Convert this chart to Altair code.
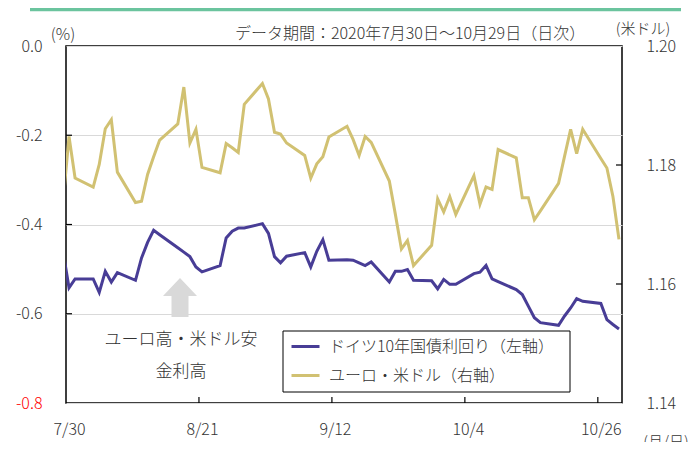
import altair as alt
import pandas as pd

# ---------------- data ----------------
dates = [
    "2020-07-29", "2020-07-30", "2020-07-31", "2020-08-03", "2020-08-04", "2020-08-05",
    "2020-08-06", "2020-08-07", "2020-08-10", "2020-08-11", "2020-08-12", "2020-08-13",
    "2020-08-14", "2020-08-17", "2020-08-18", "2020-08-19", "2020-08-20", "2020-08-21",
    "2020-08-24", "2020-08-25", "2020-08-26", "2020-08-27", "2020-08-28", "2020-08-31",
    "2020-09-01", "2020-09-02", "2020-09-03", "2020-09-04", "2020-09-07", "2020-09-08",
    "2020-09-09", "2020-09-10", "2020-09-11", "2020-09-14", "2020-09-15", "2020-09-16",
    "2020-09-17", "2020-09-18", "2020-09-21", "2020-09-22", "2020-09-23", "2020-09-24",
    "2020-09-25", "2020-09-28", "2020-09-29", "2020-09-30", "2020-10-01", "2020-10-02",
    "2020-10-05", "2020-10-06", "2020-10-07", "2020-10-08", "2020-10-09", "2020-10-12",
    "2020-10-13", "2020-10-14", "2020-10-15", "2020-10-16", "2020-10-19", "2020-10-20",
    "2020-10-21", "2020-10-22", "2020-10-23", "2020-10-26", "2020-10-27", "2020-10-28",
    "2020-10-29",
]
bund_yield = [
    -0.460, -0.542, -0.522, -0.522, -0.552, -0.505,
    -0.529, -0.508, -0.525, -0.475, -0.440, -0.413,
    -0.423, -0.452, -0.462, -0.472, -0.495, -0.506,
    -0.492, -0.430, -0.415, -0.408, -0.408, -0.398,
    -0.420, -0.472, -0.486, -0.471, -0.463, -0.495,
    -0.460, -0.434, -0.480, -0.479, -0.480, -0.486,
    -0.492, -0.484, -0.529, -0.505, -0.505, -0.501,
    -0.525, -0.526, -0.544, -0.523, -0.534, -0.534,
    -0.510, -0.507, -0.492, -0.522, -0.528, -0.546,
    -0.557, -0.583, -0.609, -0.620, -0.626, -0.605,
    -0.587, -0.566, -0.572, -0.577, -0.613, -0.624,
    -0.634,
]
eur_usd = [
    1.1736, 1.1848, 1.1778, 1.1763, 1.1801, 1.1861,
    1.1876, 1.1788, 1.1737, 1.1739, 1.1784, 1.1814,
    1.1842, 1.1869, 1.1931, 1.1837, 1.1860, 1.1796,
    1.1787, 1.1836, 1.1829, 1.1821, 1.1902, 1.1937,
    1.1911, 1.1855, 1.1852, 1.1837, 1.1816, 1.1778,
    1.1802, 1.1814, 1.1847, 1.1865, 1.1843, 1.1816,
    1.1848, 1.1838, 1.1773, 1.1717, 1.1659, 1.1673,
    1.1631, 1.1665, 1.1743, 1.1721, 1.1747, 1.1717,
    1.1782, 1.1734, 1.1763, 1.1759, 1.1826, 1.1812,
    1.1745, 1.1745, 1.1708, 1.1723, 1.1769, 1.1815,
    1.1860, 1.1819, 1.1860, 1.1811, 1.1795, 1.1747,
    1.1675,
]
series_names = ["ドイツ10年国債利回り（左軸）", "ユーロ・米ドル（右軸）"]
x_tick_dates = ["2020-07-30", "2020-08-21", "2020-09-12", "2020-10-04", "2020-10-26"]
left_ticks = [0.0, -0.2, -0.4, -0.6, -0.8]
right_ticks = [1.14, 1.16, 1.18, 1.20]
title_text = "データ期間：2020年7月30日～10月29日（日次）"
annot_lines = ["ユーロ高・米ドル安", "金利高"]

# ---------------- styling ----------------
FONT = "Noto Sans CJK JP"
FW = 300
TXT = "#333333"
PURPLE = "#483D96"
GOLD = "#D1C172"
W, H = 556, 357

df_b = pd.DataFrame({"t": [d + "T12:00:00Z" for d in dates], "v": bund_yield, "s": series_names[0]})
df_e = pd.DataFrame({"t": [d + "T12:00:00Z" for d in dates], "v": eur_usd, "s": series_names[1]})

x_scale = alt.Scale(type="utc", domain=[alt.DateTime(year=2020, month=7, date=30, utc=True),
                                        alt.DateTime(year=2020, month=10, date=30, utc=True)])
x_axis = alt.Axis(
    values=[alt.DateTime(year=int(d[:4]), month=int(d[5:7]), date=int(d[8:]), utc=True) for d in x_tick_dates],
    labelExpr="utcFormat(datum.value, '%-m/%-d')",
    labelFlush=False, labelOverlap=False, labelOffset=3, labelPadding=18,
    domain=False, ticks=False, grid=False, labelFontSize=16, labelColor=TXT, title=None,
    labelFontWeight=FW,
)
yl_scale = alt.Scale(domain=[-0.8, 0.0], nice=False, zero=False)
yl_axis = alt.Axis(
    values=left_ticks, orient="left",
    labelExpr="replace(format(datum.value, '.1f'), '\u2212', '-')",
    labelColor={"condition": {"test": "datum.value < -0.7", "value": "#FF0000"}, "value": TXT},
    grid=True, gridColor="#D9D9D9", gridWidth=1, domain=False, ticks=False,
    labelPadding=24, labelFontSize=16, title=None, labelFontWeight=FW,
)
yr_scale = alt.Scale(domain=[1.14, 1.20], nice=False, zero=False)
yr_axis = alt.Axis(
    values=right_ticks, orient="right", format=".2f",
    grid=False, domain=False, ticks=False,
    labelPadding=24, labelFontSize=16, labelColor=TXT, title=None, labelFontWeight=FW,
)
color_scale = alt.Scale(domain=series_names, range=[PURPLE, GOLD])
legend = alt.Legend(
    orient="none", legendX=224, legendY=285, direction="vertical", title=None,
    symbolType="stroke", symbolStrokeWidth=3, symbolSize=784, labelFontSize=16,
    labelOffset=8, rowPadding=5, padding=0, labelColor=TXT, labelLimit=400,
    labelFontWeight=FW,
)

def X(field):
    return alt.X(field, type="temporal", scale=x_scale, axis=x_axis)

bund_line = alt.Chart(df_b).mark_line(strokeWidth=3, clip=True).encode(
    x=X("t"), y=alt.Y("v:Q", scale=yl_scale, axis=yl_axis),
    color=alt.Color("s:N", scale=color_scale, legend=legend),
)
lt = alt.Chart(pd.DataFrame({"v": left_ticks[1:-1]})).mark_rule(color="black", strokeWidth=1.2).encode(
    y=alt.Y("v:Q", scale=yl_scale, axis=yl_axis), x=alt.value(0), x2=alt.value(6)
)
left = alt.layer(bund_line, lt)

eur_line = alt.Chart(df_e).mark_line(strokeWidth=3, clip=True).encode(
    x=X("t"), y=alt.Y("v:Q", scale=yr_scale, axis=yr_axis),
    color=alt.Color("s:N", scale=color_scale, legend=legend),
)
rt = alt.Chart(pd.DataFrame({"v": right_ticks[1:-1]})).mark_rule(color="black", strokeWidth=1.2).encode(
    y=alt.Y("v:Q", scale=yr_scale, axis=yr_axis), x=alt.value(W - 6), x2=alt.value(W)
)
right = alt.layer(eur_line, rt)

xt = alt.Chart(pd.DataFrame({"t": [d + "T00:00:00Z" for d in x_tick_dates[1:]]})).mark_rule(
    color="black", strokeWidth=1.2
).encode(x=X("t"), y=alt.value(H - 6), y2=alt.value(H))

one = pd.DataFrame({"a": [0]})

def label(text, x, y, size=16, align="center", color=TXT):
    return alt.Chart(pd.DataFrame({"txt": [text]})).mark_text(
        align=align, baseline="middle", fontSize=size, color=color, font=FONT, fontWeight=FW
    ).encode(text="txt:N", x=alt.value(x), y=alt.value(y))

texts = [
    label(title_text, 169, -12.5, 16, "left"),
    label("(%)", -3, -11, 16),
    label("(米ドル)", 577, -17.5, 15),
    label("(月/日)", 600, 396, 15),
    label(annot_lines[0], 115, 294, 17),
    label(annot_lines[1], 115, 326, 17),
]

legend_box = alt.Chart(one).mark_rect(fill="white", stroke="black", strokeWidth=1).encode(
    x=alt.value(217), x2=alt.value(504), y=alt.value(285), y2=alt.value(346)
)

arrow_path = ("M 0 -0.975 L 0.85 -0.075 L 0.425 -0.075 L 0.425 0.975 "
              "L -0.425 0.975 L -0.425 -0.075 L -0.85 -0.075 Z")
arrow = alt.Chart(one).mark_point(
    shape=arrow_path, size=1600, filled=True, color="#D9D9D9", opacity=1, strokeWidth=0
).encode(x=alt.value(114), y=alt.value(251.5))

green = alt.Chart(one).mark_rule(color="#6BC49E", strokeWidth=3.5).encode(
    x=alt.value(-36), x2=alt.value(615), y=alt.value(-36.5)
)

chart = alt.layer(
    legend_box, left, right, xt, arrow, green, *texts
).resolve_scale(y="independent").properties(
    width=W, height=H,
    padding={"left": 58, "top": 38, "right": 66, "bottom": 39},
    autosize=alt.AutoSizeParams(type="none"),
).configure(font=FONT).configure_view(stroke="black", strokeWidth=1.5)

chart.save("out.html", embed_options={"renderer": "svg", "actions": False})
